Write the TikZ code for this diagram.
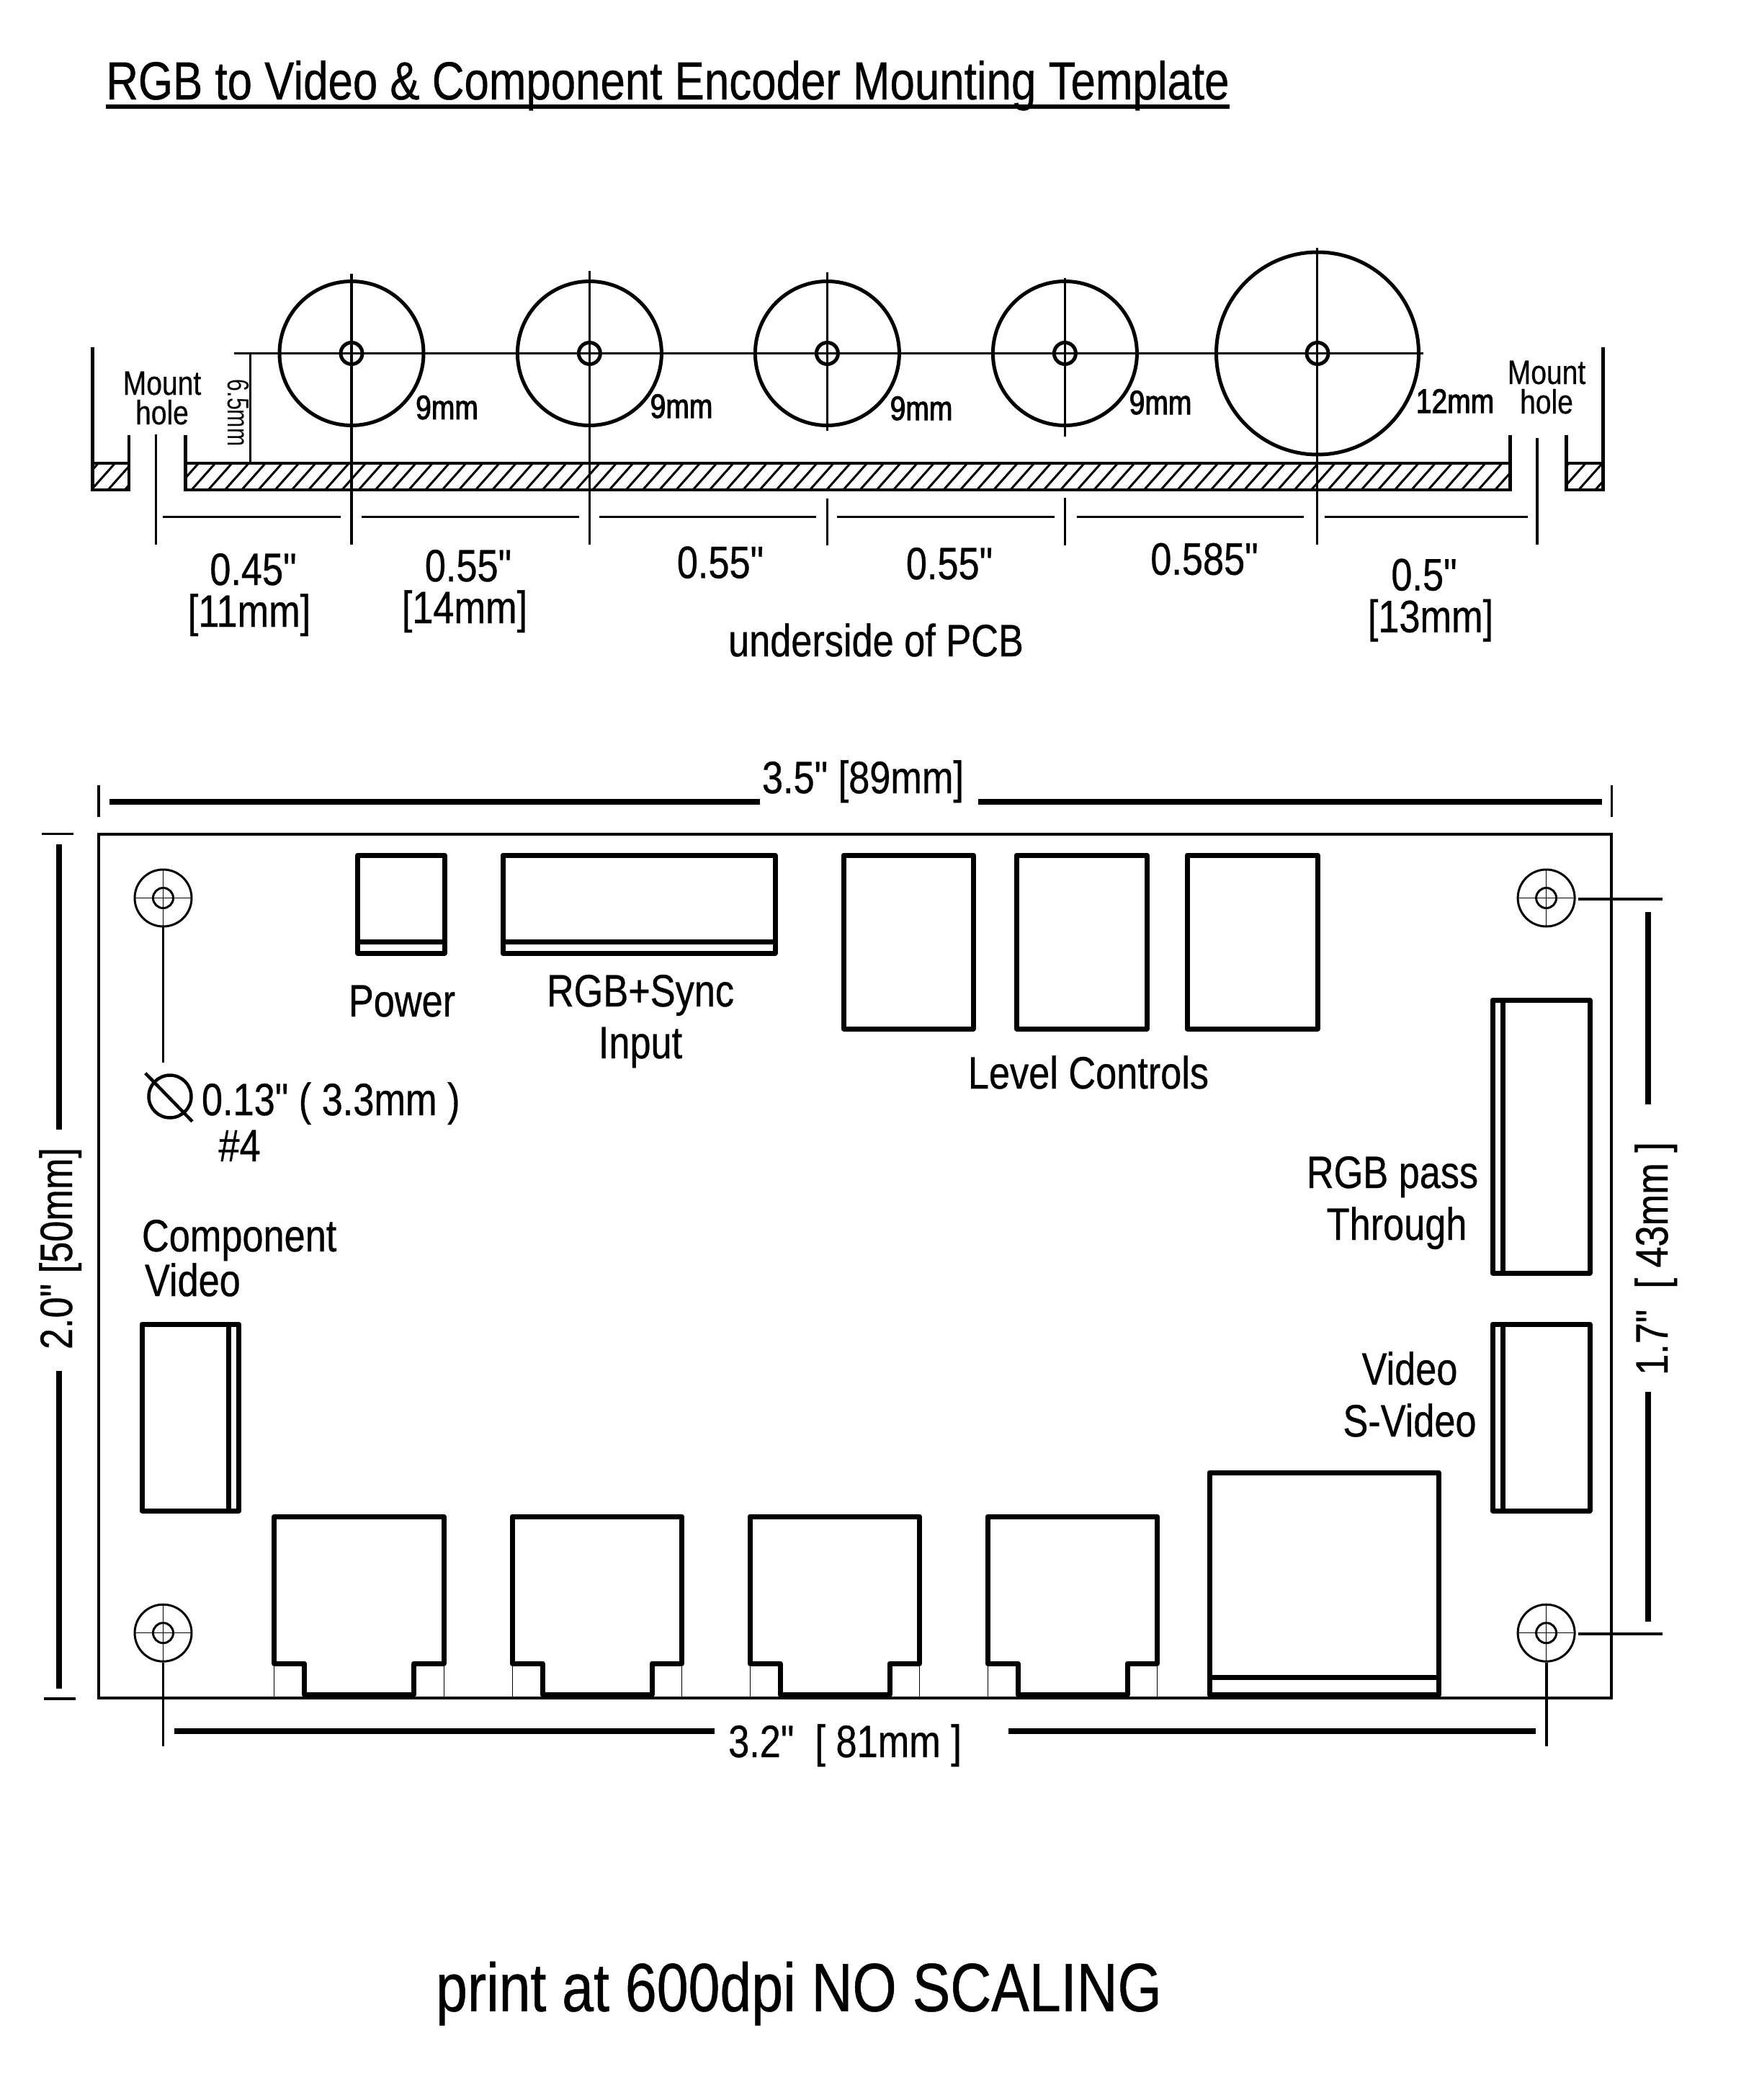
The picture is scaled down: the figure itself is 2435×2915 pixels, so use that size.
\documentclass[tikz,border=0pt]{standalone}
\usepackage{fontspec}
\setmainfont{Liberation Sans}
\newfontfamily\narrow[FakeStretch=0.83,FakeBold=0.5]{Liberation Sans}
\newfontfamily\semibold[FakeStretch=0.83,FakeBold=2.2]{Liberation Sans}
\newfontfamily\thinner[FakeStretch=0.72]{Liberation Sans}
\tikzset{
  lab/.style={inner sep=0pt,outer sep=0pt,anchor=base},
  fmain/.style={lab,font=\fontsize{63}{58}\narrow},
  fpair/.style={lab,font=\fontsize{63}{72}\narrow},
  fmount/.style={lab,font=\fontsize{47}{41}\narrow},
  fdia/.style={lab,font=\fontsize{47}{47}\semibold},
  fsmall/.style={lab,font=\fontsize{42}{42}\thinner},
  ftitle/.style={lab,font=\fontsize{74.5}{74.5}\narrow},
  fbig/.style={lab,font=\fontsize{95}{95}\narrow},
  box/.style={draw=black,line width=7pt,line join=round},
  inner/.style={draw=black,line width=7pt},
  thick dim/.style={draw=black,line width=8pt},
  thin dim/.style={draw=black,line width=3.5pt},
  centre/.style={draw=black,line width=3.5pt},
  knob/.style={draw=black,line width=5pt},
  bolt/.style={draw=black,line width=3pt},
  hair/.style={draw=black,line width=1.2pt},
  section/.style={draw=black,line width=4.5pt,line join=miter},
}
\begin{document}
\begin{tikzpicture}[x=1pt,y=-1pt]
\useasboundingbox (0,0) rectangle (2435,2915);
\fill[white] (0,0) rectangle (2435,2915);

% title
\node[ftitle] (title) at (927,138) {RGB to Video \& Component Encoder Mounting Template};
\draw[draw=black,line width=6pt] (147,148) -- (1707,148);

% ===== section view =====
\begin{scope}
  \clip (128.7,643) rectangle (179,680)
        (257.5,643) rectangle (2096.6,680)
        (2174.4,643) rectangle (2225.4,680);
  \foreach \k in {-40,...,55}
    \draw[draw=black,line width=3pt] ({1008.3+23.2*\k},680) -- ({1008.3+23.2*\k+33},643);
\end{scope}
\draw[section] (128.7,482) -- (128.7,680) -- (179,680) -- (179,604) (128.7,643) -- (179,643);
\draw[section] (257.5,604) -- (257.5,680) -- (2096.6,680) -- (2096.6,604) (257.5,643) -- (2096.6,643);
\draw[section] (2225.4,482) -- (2225.4,680) -- (2174.4,680) -- (2174.4,604) (2174.4,643) -- (2225.4,643);

% centre line and knobs
\draw[centre] (324.5,490.5) -- (1976,490.5);
\draw[knob] (488,490.5) circle (100) (818.4,490.5) circle (100) (1148.4,490.5) circle (100) (1478.4,490.5) circle (100) (1829,490.5) circle (140.5);
\draw[knob] (488,490.5) circle (15) (818.4,490.5) circle (15) (1148.4,490.5) circle (15) (1478.4,490.5) circle (15) (1829,490.5) circle (15);
\draw[centre] (488,380) -- (488,756);
\draw[centre] (818.4,376) -- (818.4,756);
\draw[centre] (1148.4,377.5) -- (1148.4,598) (1148.4,692) -- (1148.4,757);
\draw[centre] (1478.4,386) -- (1478.4,606) (1478.4,691) -- (1478.4,757);
\draw[centre] (1828.5,344) -- (1828.5,756);
\draw[centre] (216.7,603) -- (216.7,756);
\draw[centre] (2134,607.5) -- (2134,756);
\draw[centre] (347.4,490.5) -- (347.4,643);

% spans
\draw[thin dim] (225.6,717.4) -- (473,717.4) (502.4,717.4) -- (804,717.4) (832,717.4) -- (1133,717.4) (1162,717.4) -- (1464,717.4) (1495,717.4) -- (1810,717.4) (1839,717.4) -- (2121,717.4);

% section labels
\node[fmount,align=center] (mountL) at (225,589) {Mount\\hole};
\node[fmount,align=center] (mountR) at (2147,574) {Mount\\hole};
\node[fsmall,rotate=-90,anchor=base] (sixfive) at (316,573) {6.5mm};
\node[fdia] (d1) at (620.5,581.8) {9mm};
\node[fdia] (d2) at (946,580) {9mm};
\node[fdia] (d3) at (1279,583) {9mm};
\node[fdia] (d4) at (1611,575) {9mm};
\node[fdia] (d5) at (2020,573) {12mm};
\node[fmain,align=center] (s1) at (346,870) {\hspace*{11pt}0.45"\\{}[11mm]};
\node[fmain,align=center] (s2) at (645,865) {\hspace*{10pt}0.55"\\{}[14mm]};
\node[fmain] (s3) at (1000,802.4) {0.55"};
\node[fmain] (s4) at (1318,804) {0.55"};
\node[fmain] (s5) at (1672,797.7) {0.585"};
\node[fmain,align=center] (s6) at (1986,877.5) {0.5"\hspace*{18pt}\\{}[13mm]};
\node[fmain] (under) at (1216,911) {underside of PCB};

% ===== board =====
\draw[draw=black,line width=3.5pt] (137,1158) rectangle (2237,2357);
\draw[thick dim] (152,1113) -- (1055,1113) (1358,1113) -- (2223.5,1113);
\draw[centre] (137,1090) -- (137,1133.5) (2237.5,1090) -- (2237.5,1133.5);
\node[fmain] (w35) at (1198,1101) {3.5" [89mm]};

% left dimension
\draw[thick dim] (82,1172) -- (82,1568) (82,1903) -- (82,2344);
\draw[centre] (58,1157.5) -- (102,1157.5) (61,2358) -- (105,2358);
\node[fmain,rotate=90] (h20) at (100,1733) {2.0" [50mm]};

% right dimension
\draw[centre] (2191,1248) -- (2308,1248) (2191,2268) -- (2308,2268);
\draw[thick dim] (2288,1266) -- (2288,1533) (2288,1932) -- (2288,2251);
\node[fmain,rotate=90] (h17) at (2315,1747) {1.7"~~[ 43mm ]};

% bottom dimension
\draw[thick dim] (241.6,2403) -- (991.6,2403) (1400,2403) -- (2131.6,2403);
\draw[centre] (226.5,2307.6) -- (226.5,2423.6) (2147,2307.6) -- (2147,2423.6);
\node[fmain] (w32) at (1173,2439) {3.2"~~[ 81mm ]};

% mounting holes
\foreach \hx/\hy in {226.5/1246.5,2146.6/1246.5,226.5/2266.7,2146.6/2266.7}{
  \draw[bolt] (\hx,\hy) circle (39.5) (\hx,\hy) circle (14);
  \draw[hair] (\hx-39,\hy) -- (\hx+39,\hy) (\hx,\hy-39) -- (\hx,\hy+39);
}
\draw[centre] (226.3,1286.6) -- (226.3,1475.4);
\draw[draw=black,line width=4.5pt] (236,1522) circle (29.5) (201.8,1489.7) -- (267,1556.7);
\node[fmain,anchor=base west] (drill) at (280,1548) {0.13" ( 3.3mm )};
\node[fmain,anchor=base west] (screw) at (303.5,1612) {\#4};

% top connectors
\draw[box] (496.5,1187) rectangle (617,1323);
\draw[inner] (496.5,1307.6) -- (617,1307.6);
\node[fmain] (power) at (558,1411) {Power};
\draw[box] (698,1187) rectangle (1076,1323);
\draw[inner] (698,1307.6) -- (1076,1307.6);
\node[fpair,align=center] (rgbin) at (889,1469) {RGB+Sync\\Input};
\draw[box] (1171,1187) rectangle (1351,1428);
\draw[box] (1411,1187) rectangle (1592,1428);
\draw[box] (1648,1187) rectangle (1829,1428);
\node[fmain] (level) at (1511,1511) {Level Controls};

% right connectors
\draw[box] (2072,1388) rectangle (2207,1767);
\draw[inner] (2086.7,1388) -- (2086.7,1767);
\node[fpair,align=center] (pass) at (1933,1721) {RGB pass\\\hspace*{12pt}Through};
\draw[box] (2072,1838) rectangle (2207,2097);
\draw[inner] (2086.7,1838) -- (2086.7,2097);
\node[fpair,align=center] (vid) at (1957,1994) {Video\\S-Video};

% component connector
\draw[box] (197,1838) rectangle (331.5,2097);
\draw[inner] (317,1838) -- (317,2097);
\node[lab,anchor=base west,align=left,font=\fontsize{63}{62}\narrow] (comp) at (197,1799) {Component\\\hspace*{4pt}Video};

% jacks
\foreach \jx in {380.6,711,1041,1371}{
  \draw[box] (\jx,2105) -- (\jx+235.5,2105) -- (\jx+235.5,2309) -- (\jx+194,2309) -- (\jx+194,2352) -- (\jx+42,2352) -- (\jx+42,2309) -- (\jx,2309) -- cycle;
  \draw[draw=black,line width=0.8pt] (\jx,2309) -- (\jx,2356) (\jx+235.5,2309) -- (\jx+235.5,2356);
}
\draw[box] (1679,2044) rectangle (1997.5,2352);
\draw[inner] (1679,2328) -- (1997.5,2328);

% footer
\node[fbig] (note) at (1109,2791.7) {print at 600dpi NO SCALING};
\end{tikzpicture}
\end{document}
